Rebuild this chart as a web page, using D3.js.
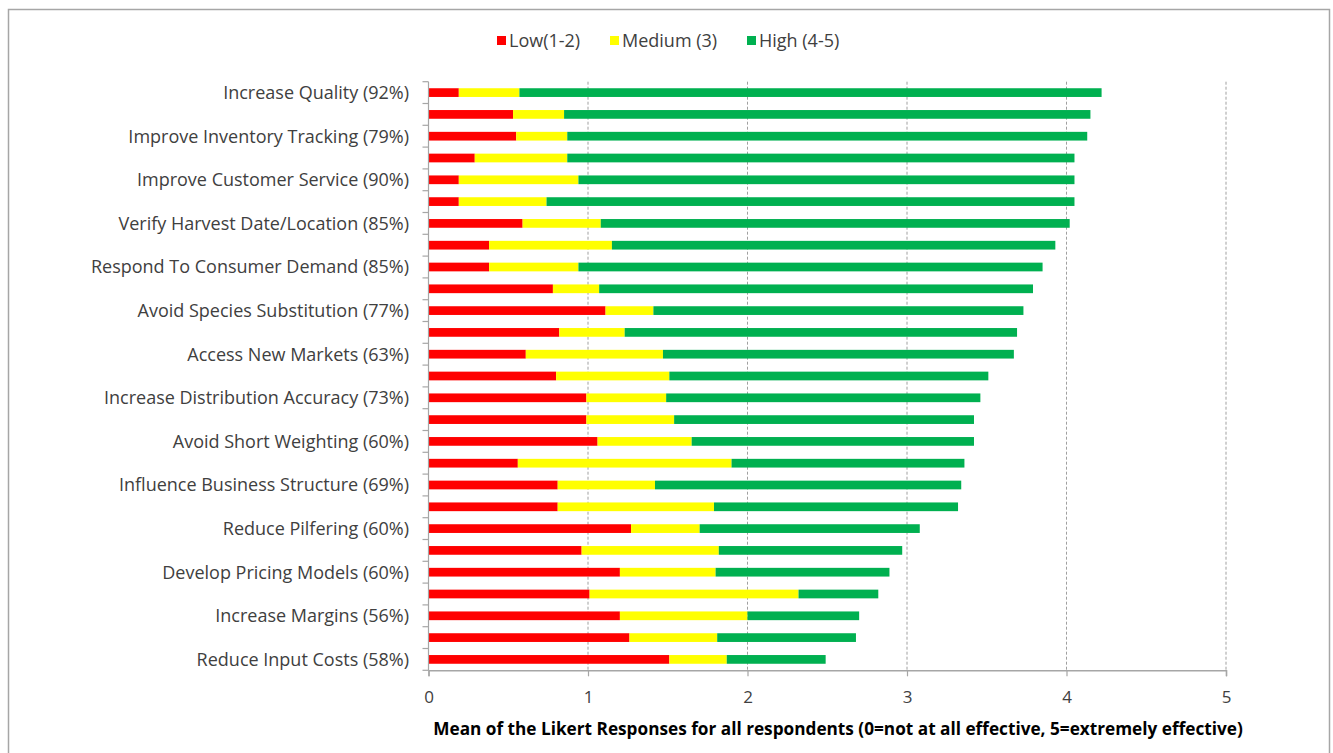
<!DOCTYPE html>
<html>
<head>
<meta charset="utf-8">
<script src="https://cdn.jsdelivr.net/npm/d3@7"></script>
<style>
  html, body { margin: 0; padding: 0; background: #fff; }
  svg { display: block; }
  text { font-family: "Open Sans", "Liberation Sans", Arial, sans-serif; }
</style>
</head>
<body>
<svg id="chart" width="1333" height="753"></svg>
<script>
// Category labels (only every other bar carries a label)
const categories = [
  "Increase Quality (92%)", "",
  "Improve Inventory Tracking (79%)", "",
  "Improve Customer Service (90%)", "",
  "Verify Harvest Date/Location (85%)", "",
  "Respond To Consumer Demand (85%)", "",
  "Avoid Species Substitution (77%)", "",
  "Access New Markets (63%)", "",
  "Increase Distribution Accuracy (73%)", "",
  "Avoid Short Weighting (60%)", "",
  "Influence Business Structure (69%)", "",
  "Reduce Pilfering (60%)", "",
  "Develop Pricing Models (60%)", "",
  "Increase Margins (56%)", "",
  "Reduce Input Costs (58%)"
];

// Contribution of each response group to the mean Likert score
const low = [0.19, 0.53, 0.55, 0.29, 0.19, 0.19, 0.59, 0.38, 0.38, 0.78, 1.11, 0.82, 0.61, 0.80,
             0.99, 0.99, 1.06, 0.56, 0.81, 0.81, 1.27, 0.96, 1.20, 1.01, 1.20, 1.26, 1.51];
const medium = [0.38, 0.32, 0.32, 0.58, 0.75, 0.55, 0.49, 0.77, 0.56, 0.29, 0.30, 0.41, 0.86, 0.71,
                0.50, 0.55, 0.59, 1.34, 0.61, 0.98, 0.43, 0.86, 0.60, 1.31, 0.80, 0.55, 0.36];
const high = [3.65, 3.30, 3.26, 3.18, 3.11, 3.31, 2.94, 2.78, 2.91, 2.72, 2.32, 2.46, 2.20, 2.00,
              1.97, 1.88, 1.77, 1.46, 1.92, 1.53, 1.38, 1.15, 1.09, 0.50, 0.70, 0.87, 0.62];

const seriesNames = ["Low(1-2)", "Medium (3)", "High (4-5)"];
const seriesColors = ["#ff0000", "#ffff00", "#00b050"];
const xTicks = [0, 1, 2, 3, 4, 5];
const xTitle = "Mean of the Likert Responses for all respondents (0=not at all effective, 5=extremely effective)";

const rows = categories.map((c, i) => ({ idx: i, low: low[i], medium: medium[i], high: high[i] }));
const keys = ["low", "medium", "high"];
const stacked = d3.stack().keys(keys)(rows);

const svg = d3.select("#chart");
const margin = { left: 428.5, right: 107, top: 81.7, bottom: 82.7 };
const W = 1333, H = 753;

// outer frame
svg.append("rect")
  .attr("x", 8.5).attr("y", 9.5).attr("width", 1321).attr("height", 750)
  .attr("fill", "none").attr("stroke", "#a6a6a6").attr("stroke-width", 1.5);

const x = d3.scaleLinear().domain([0, 5]).range([margin.left, W - margin.right]);
const y = d3.scaleBand().domain(rows.map(d => d.idx))
  .range([margin.top, H - margin.bottom]).paddingInner(0.6).paddingOuter(0.3);

// dashed vertical gridlines
svg.append("g").selectAll("line").data(xTicks.filter(t => t > 0)).join("line")
  .attr("x1", d => x(d)).attr("x2", d => x(d))
  .attr("y1", margin.top).attr("y2", H - margin.bottom)
  .attr("stroke", "#a0a0a0").attr("stroke-width", 1).attr("stroke-dasharray", "3,2");

// stacked bars
svg.append("g").selectAll("g").data(stacked).join("g")
  .attr("fill", (d, i) => seriesColors[i])
  .selectAll("rect").data(d => d).join("rect")
  .attr("x", d => x(d[0]))
  .attr("width", d => x(d[1]) - x(d[0]))
  .attr("y", d => y(d.data.idx))
  .attr("height", y.bandwidth());

// category axis
const step = y.step();
const yAxis = svg.append("g");
yAxis.append("line")
  .attr("x1", margin.left).attr("x2", margin.left)
  .attr("y1", margin.top).attr("y2", H - margin.bottom)
  .attr("stroke", "#a6a6a6").attr("stroke-width", 1.2);
const boundaries = d3.range(rows.length + 1).map(i => margin.top + i * step);
yAxis.selectAll("line.tk").data(boundaries).join("line").attr("class", "tk")
  .attr("x1", margin.left - 6).attr("x2", margin.left)
  .attr("y1", d => d).attr("y2", d => d)
  .attr("stroke", "#a6a6a6").attr("stroke-width", 1.2);
yAxis.selectAll("text").data(rows.filter(d => categories[d.idx] !== "")).join("text")
  .attr("x", 409)
  .attr("y", d => y(d.idx) + y.bandwidth() / 2)
  .attr("dy", "0.36em")
  .attr("text-anchor", "end")
  .attr("font-size", 18)
  .attr("fill", "#404040")
  .text(d => categories[d.idx]);

// value axis
const xAxisG = svg.append("g").attr("transform", `translate(0,${H - margin.bottom})`)
  .call(d3.axisBottom(x).tickValues(xTicks).tickFormat(d3.format("d")).tickSize(6).tickPadding(15));
xAxisG.select(".domain").attr("stroke", "#a6a6a6").attr("stroke-width", 1.5);
xAxisG.selectAll(".tick line").attr("stroke", "#a6a6a6").attr("stroke-width", 1.2);
xAxisG.selectAll(".tick text").attr("font-size", 17).attr("fill", "#404040")
  .attr("font-family", "'Open Sans', 'Liberation Sans', Arial, sans-serif");

// axis title, sized to span the plot width
const title = svg.append("text")
  .attr("x", (433 + 1243) / 2).attr("y", 735)
  .attr("text-anchor", "middle")
  .attr("font-size", 16).attr("font-weight", "bold").attr("fill", "#000")
  .text(xTitle);
const tLen = title.node().getComputedTextLength();
title.attr("font-size", 16 * 810 / tLen);

// legend
const legendX = [497, 610, 747];
const legend = svg.append("g");
seriesNames.forEach((name, i) => {
  legend.append("rect").attr("x", legendX[i]).attr("y", 36).attr("width", 9).attr("height", 9)
    .attr("fill", seriesColors[i]);
  legend.append("text").attr("x", legendX[i] + 12).attr("y", 41).attr("dy", "0.36em")
    .attr("font-size", 18).attr("fill", "#404040").text(name);
});
</script>
</body>
</html>
